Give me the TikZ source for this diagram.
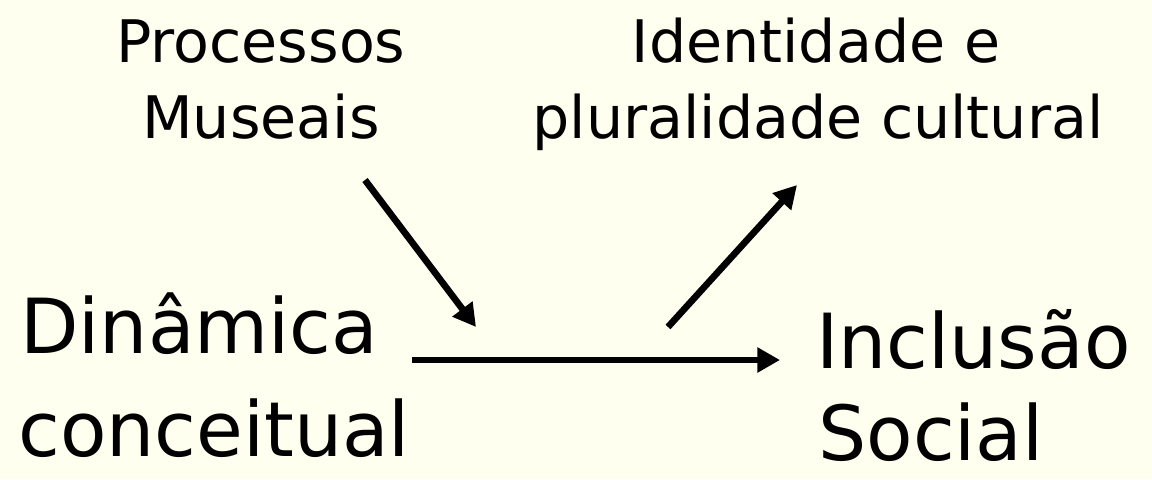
\documentclass[tikz,border=0pt]{standalone}
\usepackage{fontspec}
\setmainfont{DejaVu Sans}
\usetikzlibrary{arrows.meta}
\definecolor{bg}{HTML}{FFFFF0}
\tikzset{
  big/.style={font=\fontsize{57}{70}\selectfont, inner sep=0pt, anchor=base west},
  small/.style={font=\fontsize{44}{54}\selectfont, inner sep=0pt, anchor=base},
  arr/.style={line width=5pt, -{Triangle[length=17pt,width=18pt]}}
}
\begin{document}
\begin{tikzpicture}[x=0.75pt,y=-0.75pt]
\fill[bg] (0,0) rectangle (1152,479);
\useasboundingbox (0,0) rectangle (1152,479);
\node[small] (proc1) at (261,62) {Processos};
\node[small] (proc2) at (261,138) {Museais};
\node[small] (ident1) at (816,62) {Identidade e};
\node[small] (ident2) at (818,138) {pluralidade cultural};
\node[big] (din1) at (20,353) {Dinâmica};
\node[big, text depth=0pt] (din2) at (18,456) {conceitual};
\node[big] (inc1) at (816,368) {Inclusão};
\node[big, text depth=0pt] (inc2) at (818,460) {Social};
\coordinate (hs) at (412,360);
\coordinate (he) at (780,360);
\coordinate (ps) at (365,180);
\coordinate (pe) at (476,327);
\coordinate (us) at (668,327);
\coordinate (ue) at (797,185);
\draw[arr] (hs) -- (he);
\draw[arr] (ps) -- (pe);
\draw[arr] (us) -- (ue);
\end{tikzpicture}
\end{document}
